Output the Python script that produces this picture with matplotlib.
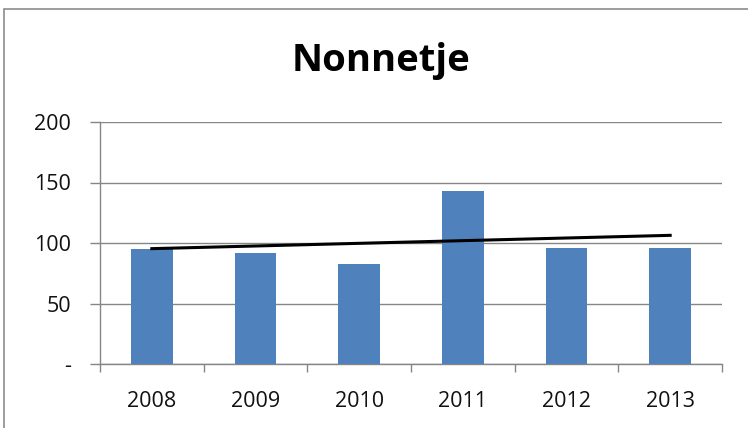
import matplotlib
matplotlib.use("Agg")
import matplotlib.pyplot as plt
import numpy as np
from matplotlib.patches import Rectangle

years = ["2008", "2009", "2010", "2011", "2012", "2013"]
values = [95, 92, 83, 143, 96, 96]
yticks = [0, 50, 100, 150, 200]
ytick_labels = ["-", "50", "100", "150", "200"]
title = "Nonnetje"

plt.rcParams['font.family'] = ['Open Sans', 'DejaVu Sans']

W, H = 748, 428
fig = plt.figure(figsize=(W / 100, H / 100), dpi=100)
fig.patch.set_facecolor("white")

# outer chart border
fig.patches.append(Rectangle((4 / W, -0.1), 1.2, (H - 9) / H + 0.1,
                             transform=fig.transFigure, fill=False,
                             edgecolor="#8c8c8c", linewidth=1.2))

left, right, top, bottom = 100, 722, 122, 364
ax = fig.add_axes([left / W, 1 - bottom / H, (right - left) / W, (bottom - top) / H])

x = np.arange(len(years))
ax.bar(x, values, width=0.4, color="#4F81BD", zorder=3)

coef = np.polyfit(x, values, 1)
ax.plot([x[0], x[-1]], np.polyval(coef, [x[0], x[-1]]), color="black",
        linewidth=2.2, zorder=4)

ax.set_xlim(-0.5, len(years) - 0.5)
ax.set_ylim(0, 200)
ax.set_yticks(yticks)
ax.set_yticklabels(ytick_labels)
ax.yaxis.grid(True, color="#868686", linewidth=1.0, zorder=0)
ax.set_axisbelow(True)

ax.set_xticks(x)
ax.set_xticklabels(years)
ax.set_xticks(np.arange(-0.5, len(years)), minor=True)
ax.tick_params(axis="x", which="major", length=0, pad=19.5, labelsize=15.5, labelcolor="#111111")
ax.tick_params(axis="x", which="minor", length=6, color="#868686", width=1.0, direction="out")
ax.tick_params(axis="y", length=7, color="#868686", width=1.0, pad=14, labelsize=15.5,
               labelcolor="#111111")

for s in ["top", "right"]:
    ax.spines[s].set_visible(False)
for s in ["left", "bottom"]:
    ax.spines[s].set_color("#868686")
    ax.spines[s].set_linewidth(1.0)

fig.text(381 / W, 1 - 71 / H, title, ha="center", va="baseline",
         fontsize=27.5, fontweight="bold", color="black")

fig.savefig("out.png", dpi=100)
